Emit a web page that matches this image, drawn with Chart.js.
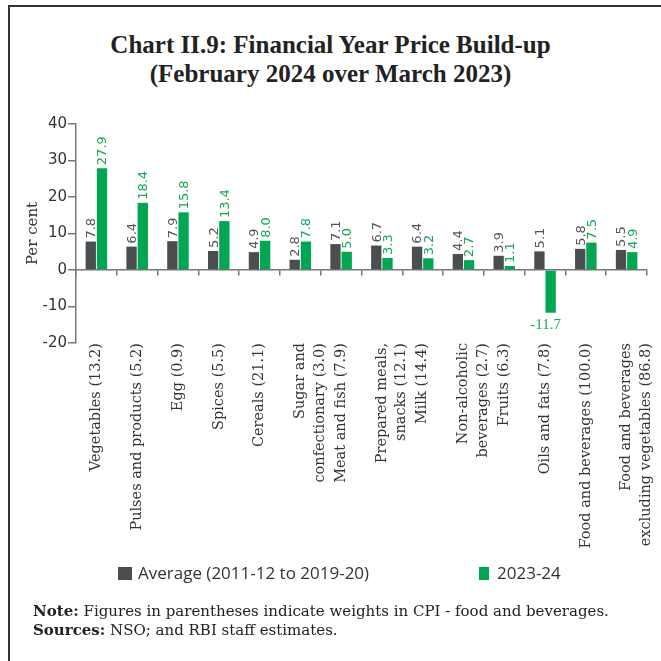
<!DOCTYPE html>
<html>
<head>
<meta charset="utf-8">
<script src="https://cdn.jsdelivr.net/npm/chart.js@4"></script>
<style>
  html, body { margin: 0; padding: 0; background: #fff; }
  body { width: 661px; height: 661px; position: relative; overflow: hidden; color: #222; }
  #chart { position: absolute; left: 0; top: 0; }
  .frame-top { position: absolute; left: 8px; top: 5px; width: 653px; height: 2px; background: #333; }
  .frame-left { position: absolute; left: 8px; top: 5px; width: 2px; height: 656px; background: #333; }
  #title { position: absolute; left: 0; top: 30px; width: 661px; text-align: center;
           font: bold 25px/29px "Liberation Serif", serif; color: #222; }
  .leg-box { position: absolute; top: 567px; height: 13px; }
  .leg-text { position: absolute; top: 563px; font: 17px/20px "Open Sans", sans-serif; color: #333; white-space: nowrap; }
  #note { position: absolute; left: 33px; top: 602px; font: 15px/19px "DejaVu Serif", serif; color: #222; white-space: nowrap; }
</style>
</head>
<body>
<div class="frame-top"></div>
<div class="frame-left"></div>
<div id="title">Chart II.9: Financial Year Price Build-up<br>(February 2024 over March 2023)</div>
<canvas id="chart" width="661" height="661"></canvas>
<div class="leg-box" style="left:118px;width:14px;background:#4b4e50"></div>
<div class="leg-text" style="left:138px">Average (2011-12 to 2019-20)</div>
<div class="leg-box" style="left:479px;width:10px;background:#00a651"></div>
<div class="leg-text" style="left:497px">2023-24</div>
<div id="note"><b>Note:</b> Figures in parentheses indicate weights in CPI - food and beverages.<br><b>Sources:</b> NSO; and RBI staff estimates.</div>

<script>
// --- data ---
const categories = [
  'Vegetables (13.2)',
  'Pulses and products (5.2)',
  'Egg (0.9)',
  'Spices (5.5)',
  'Cereals (21.1)',
  ['Sugar and', 'confectionary (3.0)'],
  'Meat and fish (7.9)',
  ['Prepared meals,', 'snacks (12.1)'],
  'Milk (14.4)',
  ['Non-alcoholic', 'beverages (2.7)'],
  'Fruits (6.3)',
  'Oils and fats (7.8)',
  'Food and beverages (100.0)',
  ['Food and beverages', 'excluding vegetables (86.8)']
];
const average = [7.8, 6.4, 7.9, 5.2, 4.9, 2.8, 7.1, 6.7, 6.4, 4.4, 3.9, 5.1, 5.8, 5.5];
const fy2324 = [27.9, 18.4, 15.8, 13.4, 8.0, 7.8, 5.0, 3.3, 3.2, 2.7, 1.1, -11.7, 7.5, 4.9];
const yTicks = [-20, -10, 0, 10, 20, 30, 40];

const DARK = '#4b4e50';
const GREEN = '#00a651';

// --- value labels on top of the bars ---
const barLabels = {
  id: 'barLabels',
  afterDatasetsDraw(chart) {
    const ctx = chart.ctx;
    chart.data.datasets.forEach((ds, di) => {
      const meta = chart.getDatasetMeta(di);
      meta.data.forEach((bar, i) => {
        const v = ds.data[i];
        const txt = v.toFixed(1);
        ctx.save();
        ctx.fillStyle = ds.labelColor;
        if (v >= 0) {
          ctx.font = '13px "DejaVu Sans"';
          ctx.translate(bar.x + 1, bar.y - 3);
          ctx.rotate(-Math.PI / 2);
          ctx.textAlign = 'left';
          ctx.textBaseline = 'middle';
          ctx.fillText(txt, 0, 0);
        } else {
          ctx.font = '15px "Liberation Serif"';
          ctx.textAlign = 'center';
          ctx.textBaseline = 'top';
          ctx.fillText(txt, bar.x - 5, bar.y + 5);
        }
        ctx.restore();
      });
    });
  }
};

new Chart(document.getElementById('chart'), {
  type: 'bar',
  data: {
    labels: categories,
    datasets: [
      { label: 'Average (2011-12 to 2019-20)', data: average, backgroundColor: DARK, labelColor: '#555' },
      { label: '2023-24', data: fy2324, backgroundColor: GREEN, labelColor: '#1aa757' }
    ]
  },
  options: {
    responsive: false,
    devicePixelRatio: 1,
    animation: false,
    categoryPercentage: 0.55,
    barPercentage: 0.92,
    layout: { padding: { top: 124, left: 0, right: 14, bottom: 101 } },
    plugins: { legend: { display: false }, tooltip: { enabled: false } },
    scales: {
      x: {
        type: 'category',
        grid: { display: false, drawTicks: false },
        border: { display: false },
        ticks: {
          autoSkip: false, minRotation: 90, maxRotation: 90, padding: 0,
          color: '#333', font: { family: 'DejaVu Serif', size: 14.5, lineHeight: 1.35 }
        },
        afterFit: (s) => { s.height = 217; s.paddingLeft = 0; s.paddingRight = 0; }
      },
      x2: {
        axis: 'x',
        type: 'category',
        labels: categories,
        position: { y: 0 },
        offset: true,
        grid: { drawOnChartArea: false, offset: true, tickLength: 5, color: '#777', lineWidth: 1.5 },
        border: { display: true, color: '#777', width: 1.5 },
        ticks: { display: false }
      },
      y: {
        min: -20, max: 40,
        afterBuildTicks: (s) => { s.ticks = yTicks.map(v => ({ value: v })); },
        grid: { drawOnChartArea: false, tickLength: 8, color: '#777', lineWidth: 1.5 },
        border: { color: '#777', width: 1.5 },
        ticks: { padding: 1, color: '#333', font: { family: 'DejaVu Sans', size: 15 } },
        title: {
          display: true, text: 'Per cent', color: '#333',
          font: { family: 'DejaVu Serif', size: 15 }, padding: { top: 24, bottom: 0 }
        },
        afterFit: (s) => { s.width = 76; s.paddingTop = 0; s.paddingBottom = 0; }
      }
    }
  },
  plugins: [barLabels]
});
</script>
</body>
</html>
